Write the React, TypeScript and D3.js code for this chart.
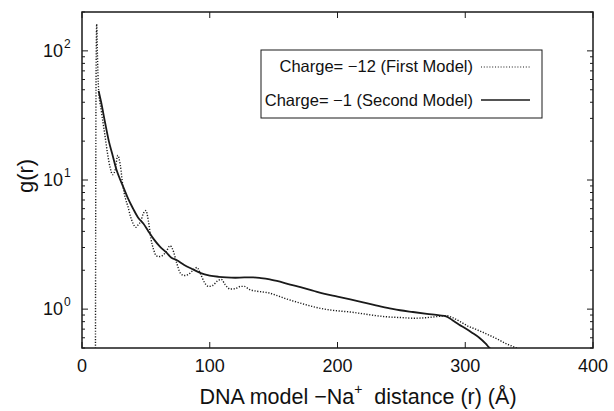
import React from "react";
import * as d3 from "d3";

const rFirst = [10.5, 11, 11.5, 12, 13, 15, 18, 20, 22, 24, 26, 28, 30, 32, 34, 36, 38, 40, 42, 44, 46, 48, 50, 52, 54, 56, 58, 60, 63, 66, 69, 71, 74, 77, 80, 83, 87, 90, 93, 96, 99, 102, 106, 109, 112, 116, 120, 124, 127, 131, 136, 141, 147, 153, 160, 170, 180, 190, 200, 210, 220, 230, 240, 250, 260, 270, 280, 285, 290, 296, 302, 308, 314, 320, 326, 332, 340, 345];
const gFirst = [0.3, 60, 161, 100, 50, 35, 22, 16, 12.5, 11, 12, 15.5, 13, 9, 7.2, 6.2, 5.2, 4.6, 4.3, 4.5, 4.8, 5.5, 5.8, 4.8, 3.5, 2.9, 2.6, 2.55, 2.6, 2.8, 3.1, 2.9, 2.3, 1.9, 1.82, 1.85, 2.0, 2.1, 1.85, 1.6, 1.5, 1.52, 1.65, 1.7, 1.55, 1.43, 1.44, 1.5, 1.5, 1.42, 1.38, 1.36, 1.33, 1.27, 1.2, 1.12, 1.05, 1.0, 0.97, 0.95, 0.92, 0.89, 0.87, 0.86, 0.85, 0.86, 0.88, 0.89, 0.86, 0.8, 0.74, 0.7, 0.66, 0.62, 0.58, 0.54, 0.5, 0.47];

const rSecond = [13, 15, 18, 21, 24, 27, 30, 33, 36, 40, 44, 48, 52, 56, 61, 66, 70, 74, 80, 87, 93, 100, 107, 113, 120, 127, 134, 140, 147, 155, 163, 171, 180, 190, 200, 210, 220, 230, 240, 249, 259, 270, 280, 285, 290, 295, 300, 305, 311, 316, 319, 322];
const gSecond = [49, 40, 28, 20, 15.5, 12, 10, 8.5, 7.2, 6.0, 5.1, 4.6, 4.0, 3.5, 3.05, 2.75, 2.5, 2.4, 2.2, 2.03, 1.9, 1.82, 1.78, 1.76, 1.75, 1.76, 1.76, 1.74, 1.7, 1.63, 1.55, 1.48, 1.4, 1.31, 1.25, 1.19, 1.13, 1.07, 1.02, 0.98, 0.95, 0.92, 0.895, 0.88, 0.82, 0.76, 0.71, 0.66, 0.6, 0.54, 0.5, 0.47];

const xTicks = [0, 100, 200, 300, 400];
const yExps = [0, 1, 2];
const legendLabels = ["Charge= \u221212 (First Model)", "Charge= \u22121 (Second Model)"];

const W = 614, H = 411;
const L = 82, R = 593, T = 12, B = 348;
const FONT = "'Liberation Sans', Arial, Helvetica, sans-serif";

export default function App() {
  const x = d3.scaleLinear().domain([0, 400]).range([L, R]);
  const y = d3.scaleLog().domain([0.5, 200]).range([B, T]);

  const line = d3
    .line<[number, number]>()
    .x((d) => x(d[0]))
    .y((d) => y(d[1]))
    .curve(d3.curveMonotoneX);

  const first = line(rFirst.map((r, i) => [r, gFirst[i]] as [number, number])) || "";
  const second = line(rSecond.map((r, i) => [r, gSecond[i]] as [number, number])) || "";

  const minor: number[] = [];
  for (let e = -1; e <= 2; e++) {
    for (let k = 2; k <= 9; k++) {
      const v = k * Math.pow(10, e);
      if (v >= 0.5 && v <= 200) minor.push(v);
    }
  }

  const col = "#1a1a1a";

  return (
    <svg width={W} height={H} style={{ position: "fixed", left: 0, top: 0, background: "#fff" }} fontFamily={FONT}>
      <defs>
        <clipPath id="plot">
          <rect x={L} y={T} width={R - L} height={B - T} />
        </clipPath>
      </defs>
      <rect x={0} y={0} width={W} height={H} fill="#fff" />

      <g clipPath="url(#plot)" fill="none">
        <path d={first} stroke={col} strokeWidth={1.4} strokeDasharray="1.2 1.6" />
        <path d={second} stroke={col} strokeWidth={1.8} />
      </g>

      {/* y ticks */}
      {yExps.map((e) => {
        const yy = y(Math.pow(10, e));
        return (
          <g key={"ye" + e}>
            <line x1={L} x2={L + 6} y1={yy} y2={yy} stroke={col} strokeWidth={1} />
            <line x1={R} x2={R - 6} y1={yy} y2={yy} stroke={col} strokeWidth={1} />
            <text x={L - 19} y={yy + 6} fontSize={18} textAnchor="end" fill="#111">
              10
            </text>
            <text x={L - 18} y={yy - 3} fontSize={12} textAnchor="start" fill="#111">
              {e}
            </text>
          </g>
        );
      })}
      {minor.map((v, i) => {
        const yy = y(v);
        return (
          <g key={"ym" + i}>
            <line x1={L} x2={L + 3} y1={yy} y2={yy} stroke={col} strokeWidth={1} />
            <line x1={R} x2={R - 3} y1={yy} y2={yy} stroke={col} strokeWidth={1} />
          </g>
        );
      })}

      {/* x ticks */}
      {xTicks.map((t) => {
        const xx = x(t);
        return (
          <g key={"xt" + t}>
            <line x1={xx} x2={xx} y1={B} y2={B - 6} stroke={col} strokeWidth={1} />
            <line x1={xx} x2={xx} y1={T} y2={T + 6} stroke={col} strokeWidth={1} />
            <text x={xx} y={372} fontSize={18} textAnchor="middle" fill="#111">
              {t}
            </text>
          </g>
        );
      })}

      {/* frame */}
      <rect x={L} y={T} width={R - L} height={B - T} fill="none" stroke={col} strokeWidth={1.5} />

      {/* legend */}
      <rect x={261} y={50} width={281} height={68} fill="#fff" stroke={col} strokeWidth={1} />
      <text x={473} y={72} fontSize={16.5} textAnchor="end" fill="#111">
        {legendLabels[0]}
      </text>
      <line x1={481} x2={530} y1={67} y2={67} stroke={col} strokeWidth={1.2} strokeDasharray="1 1.8" />
      <text x={473} y={106} fontSize={16.5} textAnchor="end" fill="#111">
        {legendLabels[1]}
      </text>
      <line x1={481} x2={530} y1={100} y2={100} stroke={col} strokeWidth={1.5} />

      {/* axis titles */}
      <text x={358} y={404} fontSize={21.5} textAnchor="middle" fill="#111">
        DNA model {"\u2212"}Na
        <tspan fontSize={14} dy={-10}>+</tspan>
        <tspan dy={10}>{"\u00a0 "}distance (r) ({"\u00c5"})</tspan>
      </text>
      <text transform={`translate(33,176) rotate(-90)`} fontSize={22} textAnchor="middle" fill="#111">
        g(r)
      </text>
    </svg>
  );
}
